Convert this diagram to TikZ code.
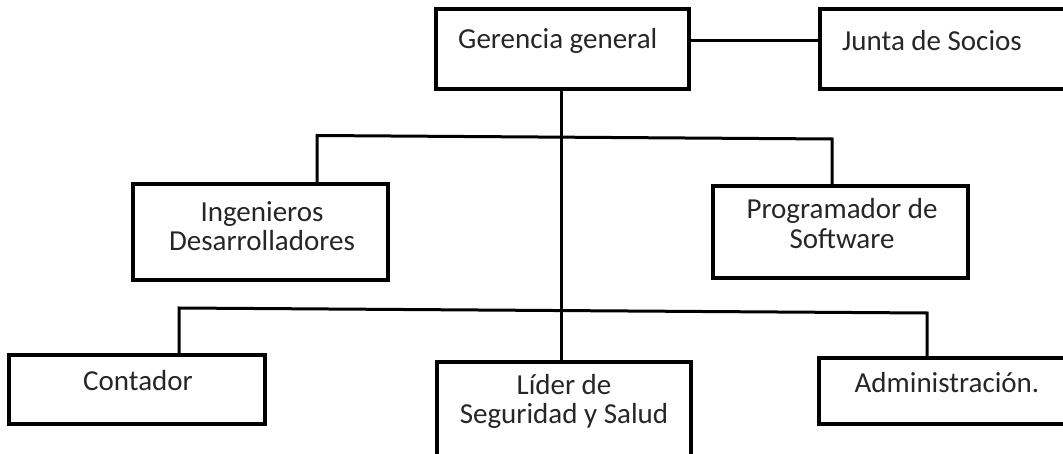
\documentclass[tikz,border=0pt]{standalone}
\usepackage{fontspec}
\setmainfont{Carlito}
\begin{document}
\begin{tikzpicture}[x=1pt,y=-1pt,
  box/.style={draw=black, line width=3.2pt, rectangle, inner sep=0pt, outer sep=0pt},
  txt/.style={inner sep=0pt, font=\fontsize{29}{29.5}\selectfont, align=center, text=black!85},
  conn/.style={draw=black, line width=3pt}]
\useasboundingbox (0,0) rectangle (1063,454);
% boxes
\node[box, minimum width=253pt, minimum height=80pt,
  label={[txt,anchor=west,xshift=22pt,yshift=8pt]west:Gerencia general}] (ger) at (562.5,49) {};
\node[box, minimum width=255pt, minimum height=80pt,
  label={[txt,anchor=west,xshift=22pt,yshift=8pt]west:Junta de Socios}] (jun) at (947.5,49) {};
\node[box, minimum width=255pt, minimum height=96pt,
  label={[txt,xshift=1.5pt,yshift=6pt]center:Ingenieros\\Desarrolladores}] (ing) at (260.5,232) {};
\node[box, minimum width=255pt, minimum height=92pt,
  label={[txt,xshift=1.5pt,yshift=8.5pt]center:Programador de\\Software}] (pro) at (840.5,232) {};
\node[box, minimum width=256pt, minimum height=69pt,
  label={[txt,xshift=1pt,yshift=8.5pt]center:Contador}] (con) at (137,389.5) {};
\node[box, minimum width=254pt, minimum height=108pt,
  label={[txt,yshift=14.5pt]center:Líder de\\Seguridad y Salud}] (lid) at (564,416) {};
\node[box, minimum width=256pt, minimum height=66pt,
  label={[txt,yshift=8pt]center:Administración.}] (adm) at (947,391) {};
% connector helpers
\coordinate (trunk) at (561,0);
\coordinate (tl) at (317,135.5);
\coordinate (tr) at (832,139);
\coordinate (bl) at (179,308);
\coordinate (br) at (927,313);
% connectors
\draw[conn] ([yshift=8pt]ger.east) -- ([yshift=8pt]jun.west);
\draw[conn] (ger.south -| trunk) -- (lid.north -| trunk);
\draw[conn] (ing.north -| tl) -- (tl) -- (tr) -- (pro.north -| tr);
\draw[conn] (con.north -| bl) -- (bl) -- (br) -- (adm.north -| br);
\end{tikzpicture}
\end{document}
